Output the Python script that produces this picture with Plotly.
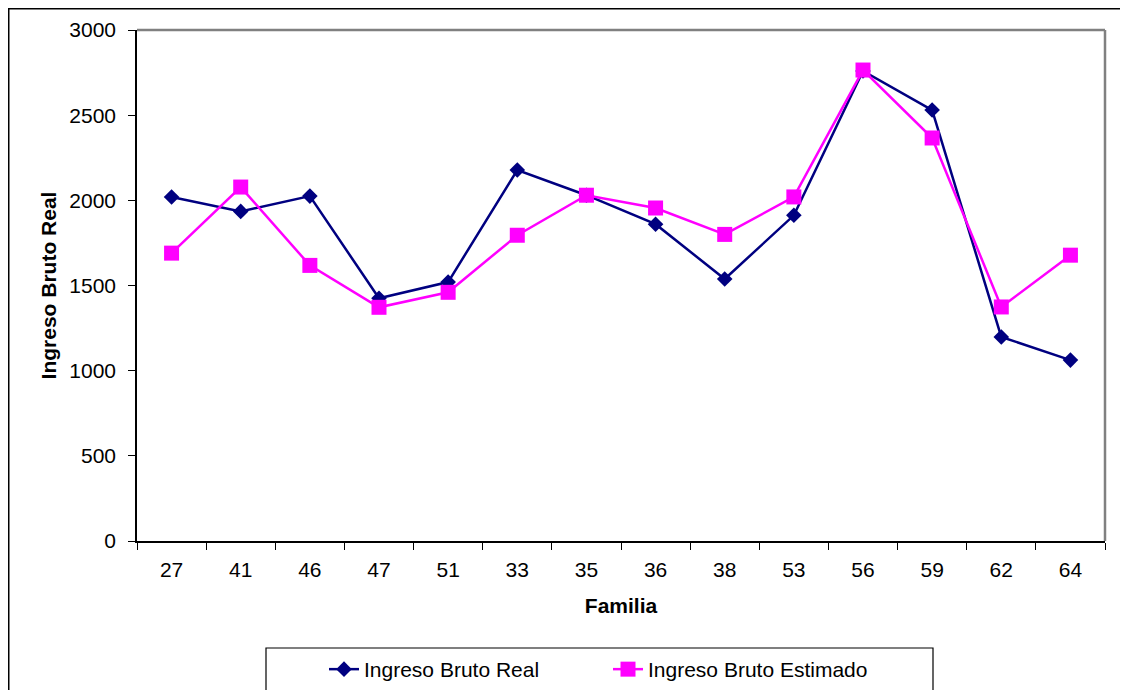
import plotly.graph_objects as go

familias = ["27", "41", "46", "47", "51", "33", "35", "36", "38", "53", "56", "59", "62", "64"]
ingreso_real = [2020, 1935, 2025, 1425, 1520, 2178, 2030, 1860, 1538, 1912, 2760, 2530, 1198, 1062]
ingreso_estimado = [1690, 2078, 1618, 1372, 1460, 1795, 2030, 1955, 1800, 2020, 2765, 2366, 1374, 1678]

W, H = 1128, 690
OFF = 8  # page body margin
# plot area in window pixels
L, R, T, B = 137, 1105, 30, 541

def px(x):
    return (x - L) / (R - L)

def py(y):
    return (B - y) / (B - T)

font = dict(family="Liberation Sans, Arial, sans-serif", size=21, color="black")
bfont = dict(family="Liberation Sans, Arial, sans-serif", size=21, color="black")

fig = go.Figure()
fig.add_trace(go.Scatter(
    x=familias, y=ingreso_real, name="Ingreso Bruto Real", mode="lines+markers",
    line=dict(color="#000080", width=2.5),
    marker=dict(symbol="diamond", size=12, color="#000080"),
))
fig.add_trace(go.Scatter(
    x=familias, y=ingreso_estimado, name="Ingreso Bruto Estimado", mode="lines+markers",
    line=dict(color="#FF00FF", width=2.5),
    marker=dict(symbol="square", size=15, color="#FF00FF"),
))

fig.update_layout(
    width=W, height=H,
    margin=dict(l=L - OFF, r=W - (R - OFF), t=T - OFF, b=H - (B - OFF), pad=0,
                autoexpand=False),
    paper_bgcolor="white", plot_bgcolor="white",
    font=font,
    showlegend=True,
    legend=dict(
        orientation="h", x=px(324), xanchor="left", y=py(649), yanchor="top",
        entrywidth=239, entrywidthmode="pixels",
        bgcolor="rgba(0,0,0,0)", borderwidth=0, font=font,
    ),
    xaxis=dict(
        type="category", range=[-0.5, len(familias) - 0.5],
        tickson="boundaries", ticks="outside", ticklen=7,
        tickcolor="black", showline=True, linecolor="black", linewidth=1.5,
        showgrid=False, zeroline=False, tickfont=font,
        title=dict(text="<b>Familia</b>", font=bfont, standoff=18),
        mirror=False, ticklabelstandoff=9,
    ),
    yaxis=dict(
        range=[0, 3000], dtick=500, ticks="outside", ticklen=7, tickcolor="black",
        showline=True, linecolor="black", linewidth=1.5, showgrid=False,
        zeroline=False, tickfont=font, ticklabelstandoff=8,
        title=dict(text="<b>Ingreso Bruto Real</b>", font=bfont, standoff=7),
    ),
    shapes=[
        # gray plot-area border on top/right
        dict(type="line", xref="paper", yref="paper", x0=0, x1=1, y0=1, y1=1,
             line=dict(color="#808080", width=2.5)),
        dict(type="line", xref="paper", yref="paper", x0=1, x1=1, y0=0, y1=1,
             line=dict(color="#808080", width=2.5)),
        # outer chart border
        dict(type="rect", xref="paper", yref="paper", x0=px(8.75), x1=px(1140),
             y0=py(710), y1=py(8.75), line=dict(color="black", width=1.5)),
        # legend box
        dict(type="rect", xref="paper", yref="paper", x0=px(266), x1=px(933),
             y0=py(710), y1=py(648), line=dict(color="black", width=1.2)),
    ],
)

fig.write_html("out.html")
